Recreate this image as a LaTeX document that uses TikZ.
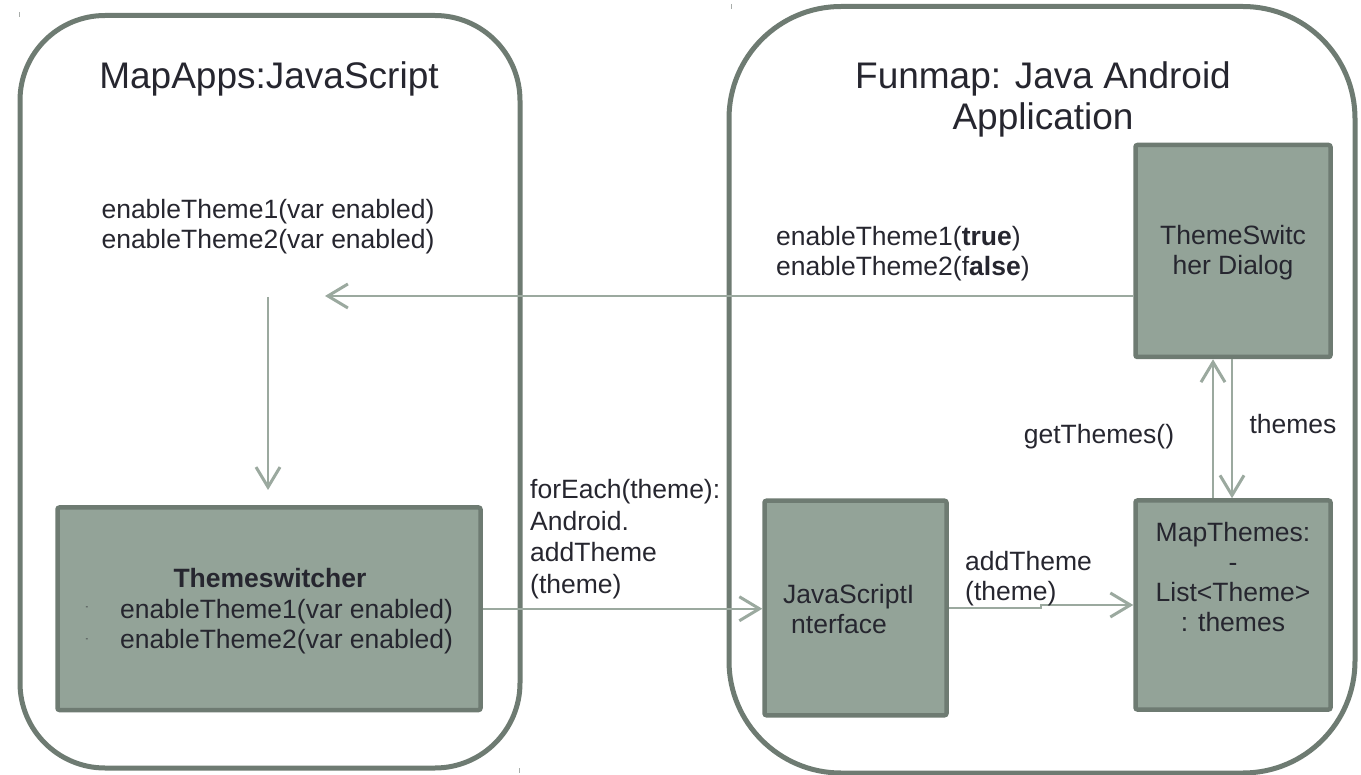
\documentclass[tikz,border=0pt]{standalone}
\usepackage{fontspec}
\setmainfont{Liberation Sans}
\usetikzlibrary{arrows.meta}
\definecolor{frame}{HTML}{6E7B72}
\definecolor{boxfill}{HTML}{93A398}
\definecolor{arrowc}{HTML}{9BA99F}
\definecolor{txt}{HTML}{26262F}
\definecolor{tick}{HTML}{A8ADAA}
\begin{document}
\begin{tikzpicture}[x=1pt,y=-1pt,
  container/.style={draw=frame,line width=5pt},
  compbox/.style={draw=frame,fill=boxfill,line width=4.5pt,rounded corners=2pt,inner sep=0pt},
  title/.style={text=txt,font=\fontsize{37}{41}\selectfont,inner sep=0pt,align=center},
  lbl/.style={text=txt,font=\fontsize{26.5}{30}\selectfont,inner sep=0pt},
  arr/.style={draw=arrowc,line width=2pt,-{Straight Barb[length=20pt,width=24pt,line width=3pt]}},
  tickmark/.style={draw=tick,line width=1pt}]
\useasboundingbox (0,0) rectangle (1361,775);
% containers
\draw[container,rounded corners=85pt] (20,15.5) rectangle (520,768);
\draw[container,rounded corners=112pt] (729,6.5) rectangle (1355,773);
% tick marks
\draw[tickmark] (19,12) -- (19,17);
\draw[tickmark] (731,4) -- (731,9);
\draw[tickmark] (519,768) -- (519,773);
% titles
\node[title] (t1) at (269,79) {MapApps:JavaScript};
\node[title] (t2) at (1043,99) {Funmap: Java Android\\Application};
% boxes
\node[compbox,minimum width=423pt,minimum height=202.5pt] (ts) at (269,608.75) {};
\node[compbox,minimum width=195pt,minimum height=212pt] (dlg) at (1233,251) {};
\node[compbox,minimum width=182pt,minimum height=214.5pt] (jsi) at (855.5,608) {};
\node[compbox,minimum width=195pt,minimum height=209pt] (mt) at (1233,605) {};
% coordinates
\coordinate (a1end) at (325,296);
\coordinate (a2s) at (268,297);
\coordinate (a2e) at (268,490);
% arrows
\draw[arr] (dlg.west |- a1end) -- (a1end);
\draw[arr] (a2s) -- (a2e);
\draw[arr] (ts.east) -- (jsi.west |- ts.east);
\draw[arr] (jsi.east) -- ++(92,0) -- ++(0,-3) -- (mt.west);
\draw[arr] ([xshift=-20pt]mt.north) -- ([xshift=-20pt]dlg.south);
\draw[arr] ([xshift=-1pt]dlg.south) -- ([xshift=-1pt]mt.north);
% texts
\node[lbl,align=left] (l1) at (268,227) {\baselineskip=29pt enableTheme1(var enabled)\\enableTheme2(var enabled)};
\node[lbl,align=left,anchor=west] (l2) at (776,254) {\baselineskip=31pt enableTheme1(\textbf{true})\\enableTheme2(f\textbf{alse})};
\node[lbl,align=center] (dlgt) at (1233,253) {\baselineskip=31pt ThemeSwitc\\her Dialog};
\node[lbl] (gt) at (1099,437) {getThemes()};
\node[lbl] (th) at (1293,424) {themes};
\node[lbl,align=left,anchor=west,font=\fontsize{26.5}{31.5}\selectfont] (fe) at (530,539) {forEach(theme):\\Android.\\addTheme\\(theme)};
\node[lbl,align=left,anchor=west] (at) at (965,579) {\baselineskip=31pt addTheme\\(theme)};
\node[lbl,align=left,anchor=west] (jsit) at (783,609) {\baselineskip=30pt JavaScriptI\\\hspace*{8pt}nterface};
\node[lbl,align=center] (mtt) at (1233,577) {\baselineskip=32pt MapThemes:\\-\\List<Theme>\\: themes};
\node[lbl,font=\fontsize{26.5}{30}\bfseries] (tst) at (270,578) {Themeswitcher};
\node[lbl,anchor=west] (ts1) at (120,612) {enableTheme1(var enabled)};
\node[lbl,anchor=west] (ts2) at (120,642) {enableTheme2(var enabled)};
\node[lbl,font=\fontsize{8}{9}\selectfont] (b1) at (87,608) {-};
\node[lbl,font=\fontsize{8}{9}\selectfont] (b2) at (87,640) {-};
\end{tikzpicture}
\end{document}
